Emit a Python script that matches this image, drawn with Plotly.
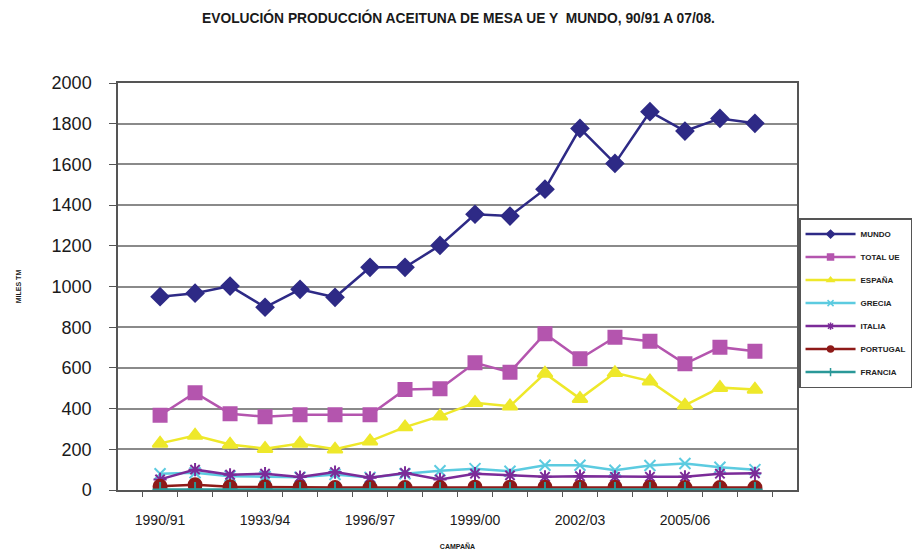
import plotly.graph_objects as go

# Campañas 1990/91 – 2007/08
campanas = [f"{y}/{str(y + 1)[-2:]}" for y in range(1990, 2008)]
etiquetas = ["1990/91", "1993/94", "1996/97", "1999/00", "2002/03", "2005/06"]

# Producción en miles de toneladas
mundo = [950, 967, 1002, 898, 986, 947, 1094, 1094, 1202, 1355,
         1346, 1478, 1777, 1605, 1859, 1764, 1826, 1802]
total_ue = [367, 478, 375, 360, 370, 370, 370, 494, 498, 625,
            579, 768, 645, 751, 731, 620, 702, 682]
espana = [229, 268, 224, 203, 229, 200, 240, 309, 363, 429,
          412, 573, 449, 576, 535, 416, 503, 494]
grecia = [80, 85, 68, 66, 63, 76, 62, 80, 95, 105,
          92, 122, 122, 97, 120, 130, 112, 100]
italia = [52, 100, 75, 80, 64, 88, 60, 84, 52, 80,
          72, 65, 68, 65, 65, 65, 80, 82]
portugal = [18, 26, 16, 16, 14, 12, 12, 12, 12, 14,
            14, 14, 14, 14, 14, 12, 12, 12]
francia = [2, 2, 2, 2, 2, 2, 2, 2, 2, 2,
           2, 2, 2, 2, 2, 2, 2, 2]

series = [
    ("MUNDO", mundo, "#2E2A86", "diamond", 13),
    ("TOTAL UE", total_ue, "#B455AE", "square", 13),
    ("ESPAÑA", espana, "#EEE82A", "triangle-up", 13),
    ("GRECIA", grecia, "#5CCBE0", "x-thin-open", 11),
    ("ITALIA", italia, "#7B2B98", "asterisk-open", 11),
    ("PORTUGAL", portugal, "#8E1A18", "circle", 13),
    ("FRANCIA", francia, "#2A9898", "cross-thin-open", 11),
]

FONT = "Liberation Sans, Arial, sans-serif"

fig = go.Figure()
for i, (name, vals, color, symbol, size) in enumerate(series):
    fig.add_trace(go.Scatter(
        x=campanas, y=vals, name=name, mode="lines+markers",
        legendgroup=f"g{i}", showlegend=False,
        line=dict(color=color, width=2.5),
        marker=dict(symbol=symbol, size=size, color=color,
                    line=dict(color=color, width=2)),
    ))
    # legend entry with a smaller marker sample
    fig.add_trace(go.Scatter(
        x=[None], y=[None], name=name, mode="lines+markers",
        legendgroup=f"g{i}", showlegend=True,
        line=dict(color=color, width=2.5),
        marker=dict(symbol=symbol, size=6, color=color,
                    line=dict(color=color, width=1.5)),
    ))

ticktext = [c if c in etiquetas else "" for c in campanas]

fig.update_layout(
    width=917, height=553,
    margin=dict(l=118, r=120, t=83, b=63, autoexpand=False),
    paper_bgcolor="white", plot_bgcolor="white",
    title=dict(
        text="EVOLUCIÓN PRODUCCIÓN ACEITUNA DE MESA UE Y  MUNDO, 90/91 A 07/08.",
        x=0.5, xanchor="center", y=0.968, yanchor="middle",
        font=dict(family=FONT, size=13.8, color="#1a1a1a", weight="bold"),
    ),
    showlegend=True,
    legend=dict(
        x=1.003, xanchor="left", y=0.668, yanchor="top",
        bgcolor="white", bordercolor="#555555", borderwidth=1.5,
        font=dict(family=FONT, size=8, color="#222222", weight="bold"),
        itemwidth=50, tracegroupgap=4,
    ),
    xaxis=dict(
        type="category", tickmode="array",
        tickvals=campanas, ticktext=ticktext, tickson="boundaries",
        tickangle=0, automargin=False, ticklabelstandoff=16,
        ticks="outside", ticklen=5, tickcolor="#555555", tickwidth=1,
        showline=True, linecolor="#555555", linewidth=1.5, mirror=True,
        showgrid=False, zeroline=False,
        tickfont=dict(family=FONT, size=14, color="#1a1a1a"),
        title=dict(text="CAMPAÑA", standoff=18,
                   font=dict(family=FONT, size=7, color="#1a1a1a", weight="bold")),
    ),
    yaxis=dict(
        range=[0, 2000], tickmode="linear", tick0=0, dtick=200,
        automargin=False,
        ticks="outside", ticklen=7, tickcolor="#555555", tickwidth=1,
        ticklabelstandoff=14,
        showline=True, linecolor="#555555", linewidth=1.5, mirror=True,
        showgrid=True, gridcolor="#8a8a8a", gridwidth=1.5, zeroline=False,
        tickfont=dict(family=FONT, size=18, color="#1a1a1a"),
        title=dict(text="MILES TM", standoff=29,
                   font=dict(family=FONT, size=7, color="#1a1a1a", weight="bold")),
    ),
)

fig.write_html("out.html")
